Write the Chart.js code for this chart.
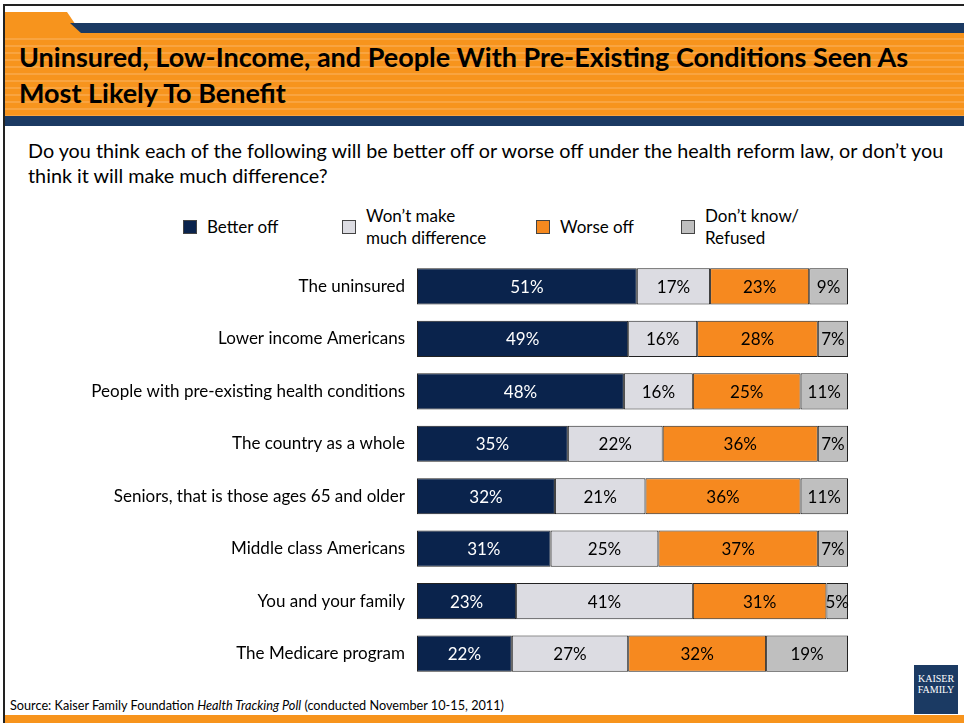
<!DOCTYPE html>
<html>
<head>
<meta charset="utf-8">
<script src="https://cdn.jsdelivr.net/npm/chart.js"></script>
<style>
  body { margin: 0; width: 964px; height: 723px; overflow: hidden; background: #fff; font-family: Lato, "Open Sans", sans-serif; position: relative; }
  .frame { position: absolute; left: 3px; top: 4px; width: 970px; height: 730px; border-left: 2px solid #222; border-top: 2px solid #222; }
  .tab { position: absolute; left: 5px; top: 12px; width: 80px; height: 22px; background: #f7941d; clip-path: polygon(0 0, 62px 0, 77px 100%, 0 100%); }
  .navytop { position: absolute; left: 70px; top: 23px; width: 900px; height: 11px; background: #1b3a63; clip-path: polygon(0 0, 100% 0, 100% 100%, 12px 100%); }
  .band { position: absolute; left: 5px; top: 33px; width: 960px; height: 83px;
    background: repeating-linear-gradient(to bottom, #f7941d 0, #f7941d 5px, #f9a440 5px, #f9a440 7px); }
  .navybot { position: absolute; left: 5px; top: 116px; width: 960px; height: 10px; background: #1b3a63; }
  .title { position: absolute; left: 19px; top: 39px; font-weight: bold; font-size: 27px; line-height: 36px; color: #000; white-space: nowrap; }
  .question { position: absolute; left: 28px; top: 138px; width: 925px; font-size: 19.8px; line-height: 25px; color: #000; }
  .legend { position: absolute; top: 204px; left: 0; width: 964px; height: 46px; font-size: 17px; color: #000; }
  .li { position: absolute; display: flex; align-items: center; height: 46px; }
  .sw { width: 14px; height: 14px; border: 1px solid #444; margin-right: 10px; box-sizing: border-box; }
  .li span { line-height: 22px; }
  .source { position: absolute; left: 10px; top: 697px; font-size: 12.7px; color: #000; white-space: nowrap; }
  .bottom { position: absolute; left: 5px; top: 715px; width: 960px; height: 8px; background: #f7941d; }
  .logo { position: absolute; left: 914px; top: 665px; width: 44px; height: 49px; background: #1b3a63; color: #fff; font-family: "Liberation Serif", serif; font-size: 10px; line-height: 11px; text-align: center; padding-top: 8px; box-sizing: border-box; }
  #wrap { position: absolute; left: 0; top: 246px; width: 964px; height: 448px; }
</style>
</head>
<body>
<div class="frame"></div>
<div class="tab"></div>
<div class="navytop"></div>
<div class="band"></div>
<div class="navybot"></div>
<div class="title">Uninsured, Low-Income, and People With Pre-Existing Conditions Seen As<br>Most Likely To Benefit</div>
<div class="question">Do you think each of the following will be better off or worse off under the health reform law, or don’t you think it will make much difference?</div>
<div class="legend" id="legend"></div>
<div id="wrap"><canvas id="chart"></canvas></div>
<div class="source">Source: Kaiser Family Foundation <i>Health Tracking Poll</i> (conducted November 10-15, 2011)</div>
<div class="logo">KAISER<br>FAMILY</div>
<div class="bottom"></div>
<script>
const groups = [
  "The uninsured",
  "Lower income Americans",
  "People with pre-existing health conditions",
  "The country as a whole",
  "Seniors, that is those ages 65 and older",
  "Middle class Americans",
  "You and your family",
  "The Medicare program"
];
const betterOff = [51, 49, 48, 35, 32, 31, 23, 22];
const noDifference = [17, 16, 16, 22, 21, 25, 41, 27];
const worseOff = [23, 28, 25, 36, 36, 37, 31, 32];
const dontKnow = [9, 7, 11, 7, 11, 7, 5, 19];

const seriesNames = [["Better off"], ["Won’t make", "much difference"], ["Worse off"], ["Don’t know/", "Refused"]];
const seriesColors = ["#0a234c", "#dcdce2", "#f6891f", "#bfbfbf"];
const labelColors = ["#ffffff", "#000000", "#000000", "#000000"];
const legendX = [183, 342, 536, 681];

// legend as html (two-line items)
const legend = document.getElementById("legend");
seriesNames.forEach((name, i) => {
  const d = document.createElement("div");
  d.className = "li";
  d.style.left = legendX[i] + "px";
  d.innerHTML = '<div class="sw" style="background:' + seriesColors[i] + '"></div><span>' + name.join("<br>") + "</span>";
  legend.appendChild(d);
});

const barLabels = {
  id: "barLabels",
  afterDatasetsDraw(chart) {
    const ctx = chart.ctx;
    ctx.save();
    ctx.font = "17px Lato, 'Open Sans', sans-serif";
    ctx.textAlign = "center";
    ctx.textBaseline = "middle";
    chart.data.datasets.forEach((ds, i) => {
      chart.getDatasetMeta(i).data.forEach((bar, j) => {
        ctx.fillStyle = labelColors[i];
        const x = (bar.base + bar.x) / 2;
        ctx.fillText(ds.data[j] + "%", x, bar.y + 1);
      });
    });
    ctx.restore();
  }
};

const allSeries = [betterOff, noDifference, worseOff, dontKnow];

new Chart(document.getElementById("chart"), {
  type: "bar",
  data: {
    labels: groups,
    datasets: allSeries.map((vals, i) => ({
      label: seriesNames[i].join(" "),
      data: vals,
      backgroundColor: seriesColors[i],
      borderColor: "#222",
      borderWidth: 1,
      borderSkipped: false,
      barPercentage: 0.69,
      categoryPercentage: 1
    }))
  },
  options: {
    indexAxis: "y",
    responsive: true,
    maintainAspectRatio: false,
    animation: false,
    layout: { padding: { left: 0, right: 116, top: 5, bottom: 6 } },
    plugins: {
      legend: { display: false },
      tooltip: { enabled: false }
    },
    scales: {
      x: { stacked: true, min: 0, max: 100, display: false },
      y: {
        stacked: true,
        grid: { display: false },
        border: { display: false },
        ticks: {
          color: "#000",
          padding: 4,
          font: { family: "Lato, 'Open Sans', sans-serif", size: 17 }
        },
        afterFit(scale) { scale.width = 417; }
      }
    }
  },
  plugins: [barLabels]
});
</script>
</body>
</html>
